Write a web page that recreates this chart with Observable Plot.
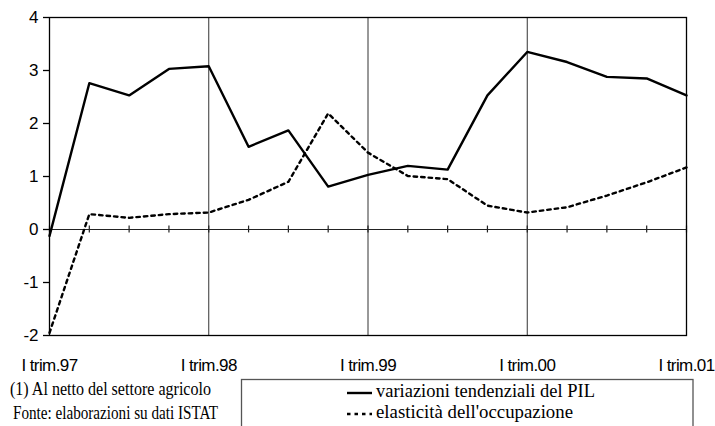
<!DOCTYPE html>
<html>
<head>
<meta charset="utf-8">
<script src="https://cdn.jsdelivr.net/npm/d3@7"></script>
<script src="https://cdn.jsdelivr.net/npm/@observablehq/plot@0.6"></script>
<style>
  html, body { margin: 0; padding: 0; background: #fff; overflow: hidden; }
  #chart { width: 715px; height: 426px; overflow: hidden; }
  #chart svg { display: block; }
</style>
</head>
<body>
<div id="chart"></div>
<script>
// Quarters (x categories)
const quarters = [
  "I trim.97", "II trim.97", "III trim.97", "IV trim.97",
  "I trim.98", "II trim.98", "III trim.98", "IV trim.98",
  "I trim.99", "II trim.99", "III trim.99", "IV trim.99",
  "I trim.00", "II trim.00", "III trim.00", "IV trim.00",
  "I trim.01"
];
// Series
const pil = [-0.12, 2.76, 2.53, 3.03, 3.08, 1.56, 1.87, 0.81, 1.03, 1.20, 1.13, 2.53, 3.35, 3.16, 2.88, 2.85, 2.53];
const elasticita = [-1.95, 0.29, 0.22, 0.29, 0.32, 0.56, 0.90, 2.19, 1.45, 1.01, 0.95, 0.45, 0.32, 0.42, 0.64, 0.89, 1.17];
// Tick labels
const xTickLabels = ["I trim.97", "I trim.98", "I trim.99", "I trim.00", "I trim.01"];
const gridLabels = ["I trim.98", "I trim.99", "I trim.00"];
const yTicks = [-2, -1, 0, 1, 2, 3, 4];
// Legend / notes
const legendLabels = ["variazioni tendenziali del PIL", "elasticità dell'occupazione"];
const notes = ["(1) Al netto del settore agricolo", "Fonte: elaborazioni su dati ISTAT"];

const data = quarters.map((q, i) => ({q, pil: pil[i], el: elasticita[i]}));

const chart = Plot.plot({
  width: 715,
  height: 426,
  marginLeft: 49,
  marginRight: 29,
  marginTop: 17,
  marginBottom: 91,
  style: {fontFamily: "'Liberation Sans', Arial, sans-serif", background: "#fff", color: "#000"},
  x: {type: "point", domain: quarters, padding: 0, round: false},
  y: {domain: [-2, 4]},
  marks: [
    Plot.ruleX(gridLabels, {stroke: "#333", strokeWidth: 1}),
    Plot.ruleY([0], {stroke: "#222", strokeWidth: 1.2}),
    Plot.ruleX(quarters, {x: d => d, y1: -0.065, y2: 0.065, stroke: "#222", strokeWidth: 1.2}),
    Plot.frame({stroke: "#000", strokeWidth: 1.3}),
    Plot.axisY(yTicks, {label: null, tickSize: 6, tickPadding: 5, fontSize: 17, tickFormat: d => String(d), stroke: "#000", strokeWidth: 1.3}),
    Plot.axisX(xTickLabels, {label: null, tickSize: 0, tickPadding: 23, fontSize: 17, tickFormat: d => d}),
    Plot.line(data, {x: "q", y: "el", stroke: "#000", strokeWidth: 2.4, strokeDasharray: "3.5,4"}),
    Plot.line(data, {x: "q", y: "pil", stroke: "#000", strokeWidth: 2.4})
  ]
});
document.getElementById("chart").appendChild(chart);

const svg = d3.select(chart);
// Slightly condensed x tick labels, like the reference
svg.selectAll('g[aria-label="x-axis tick label"] text').style("letter-spacing", "-0.6px");

// Notes and legend, drawn inside the same SVG below the plot area
const g = svg.append("g").attr("font-family", "'Liberation Serif', 'Times New Roman', serif")
  .attr("font-size", 19).attr("fill", "#000").attr("text-anchor", "start");
const noteBox = [[10, 395, 201], [13, 419, 205]];
notes.forEach((t, i) => {
  g.append("text").attr("x", noteBox[i][0]).attr("y", noteBox[i][1])
    .attr("textLength", noteBox[i][2]).attr("lengthAdjust", "spacingAndGlyphs").text(t);
});
g.append("rect").attr("x", 241.5).attr("y", 379.5).attr("width", 451.5).attr("height", 70)
  .attr("fill", "none").attr("stroke", "#555").attr("stroke-width", 1.3);
const legRows = [[393, 397, 219, null], [414, 418, 197, "3.5,4"]];
legendLabels.forEach((t, i) => {
  const [ly, ty, tl, dash] = legRows[i];
  const ln = g.append("line").attr("x1", 347).attr("x2", 372).attr("y1", ly).attr("y2", ly)
    .attr("stroke", "#000").attr("stroke-width", 2.4);
  if (dash) ln.attr("stroke-dasharray", dash);
  g.append("text").attr("x", 376).attr("y", ty)
    .attr("textLength", tl).attr("lengthAdjust", "spacingAndGlyphs").text(t);
});
</script>
</body>
</html>
